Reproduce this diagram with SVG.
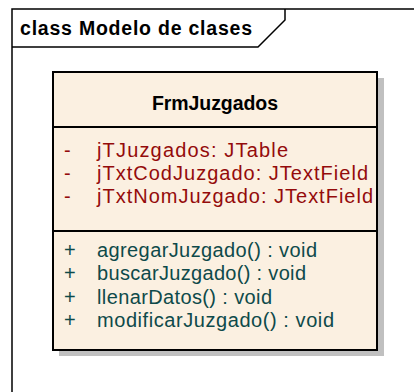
<svg xmlns="http://www.w3.org/2000/svg" width="414" height="392" viewBox="0 0 414 392">
<style>
.frame{fill:none;stroke:#000;stroke-width:1.5}
.title{font-family:"Liberation Sans",Arial,sans-serif;font-weight:bold;font-size:19.5px;fill:#000}
.box{fill:#fbf0e1;stroke:#000;stroke-width:2}
.shadow{fill:#c0c0c0}
.sep{stroke:#000;stroke-width:2}
.attr{font-family:"Liberation Sans",Arial,sans-serif;font-size:20px;fill:#940b0b}
.op{font-family:"Liberation Sans",Arial,sans-serif;font-size:20px;fill:#0e4a4a}
</style>
<rect width="414" height="392" fill="#fff"/>
<g id="frame">
<path class="frame" d="M12,392 V9 H414"/>
<path class="frame" d="M12,47 H258 L285,20 V9"/>
<text class="title" x="20" y="35" textLength="232" lengthAdjust="spacing">class Modelo de clases</text>
</g>
<g id="FrmJuzgados">
<rect class="shadow" x="59" y="78" width="325" height="278"/>
<rect class="box" x="53" y="72" width="324" height="278"/>
<line class="sep" x1="53" y1="127" x2="377" y2="127"/>
<line class="sep" x1="53" y1="231" x2="377" y2="231"/>
<text class="title" x="152" y="110" textLength="126" lengthAdjust="spacing">FrmJuzgados</text>
<text class="attr" x="64" y="157">-</text>
<text class="attr" x="97" y="157" textLength="191" lengthAdjust="spacing">jTJuzgados:  JTable</text>
<text class="attr" x="64" y="180">-</text>
<text class="attr" x="97" y="180" textLength="271" lengthAdjust="spacing">jTxtCodJuzgado:  JTextField</text>
<text class="attr" x="64" y="203">-</text>
<text class="attr" x="97" y="203" textLength="276" lengthAdjust="spacing">jTxtNomJuzgado:  JTextField</text>
<text class="op" x="64" y="257">+</text>
<text class="op" x="97" y="257" textLength="220" lengthAdjust="spacing">agregarJuzgado() : void</text>
<text class="op" x="64" y="280">+</text>
<text class="op" x="97" y="280" textLength="209" lengthAdjust="spacing">buscarJuzgado() : void</text>
<text class="op" x="64" y="304">+</text>
<text class="op" x="97" y="304" textLength="175" lengthAdjust="spacing">llenarDatos() : void</text>
<text class="op" x="64" y="327">+</text>
<text class="op" x="97" y="327" textLength="237" lengthAdjust="spacing">modificarJuzgado() : void</text>
</g>
<g id="connectors"/>
</svg>
